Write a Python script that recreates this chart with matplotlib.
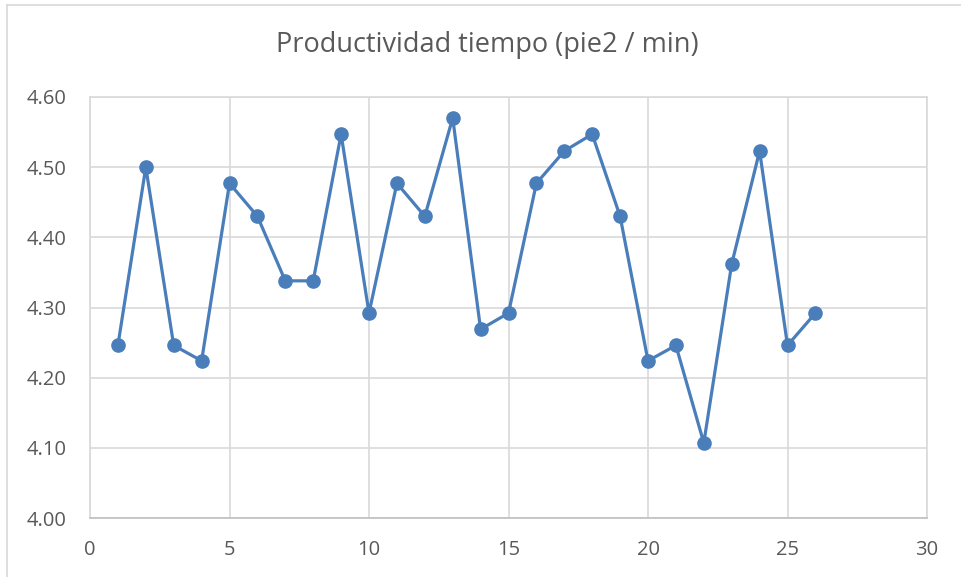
import matplotlib
matplotlib.use('Agg')
import matplotlib.pyplot as plt
from matplotlib.lines import Line2D

# Values
x = list(range(1, 27))
productividad = [4.246, 4.500, 4.246, 4.224, 4.477, 4.430, 4.338, 4.338, 4.547, 4.292,
                 4.477, 4.430, 4.570, 4.269, 4.292, 4.477, 4.523, 4.547, 4.430, 4.224,
                 4.246, 4.107, 4.362, 4.523, 4.246, 4.292]
x_ticks = [0, 5, 10, 15, 20, 25, 30]
y_ticks = [4.00, 4.10, 4.20, 4.30, 4.40, 4.50, 4.60]

plt.rcParams['font.family'] = ['Open Sans', 'DejaVu Sans']

fig = plt.figure(figsize=(9.61, 5.77), dpi=100)
ax = fig.add_axes([90 / 961, 1 - 518 / 577, (927 - 90) / 961, (518 - 97) / 577])

blue = '#4A7EBB'
ax.plot(x, productividad, color=blue, linewidth=2.3, marker='o', markersize=9.5,
        zorder=5, clip_on=False)

ax.set_xlim(0, 30)
ax.set_ylim(4.0, 4.6)
ax.set_xticks(x_ticks)
ax.set_yticks(y_ticks)
ax.set_yticklabels([f'{v:.2f}' for v in y_ticks])
ax.grid(True, color='#d9d9d9', linewidth=1.2)
ax.set_axisbelow(True)
ax.tick_params(length=0, labelsize=14.5, colors='#595959')
ax.tick_params(axis='x', pad=16)
ax.tick_params(axis='y', pad=17)
for s in ax.spines.values():
    s.set_color('#d9d9d9')
    s.set_linewidth(1.2)
ax.spines['bottom'].set_color('#bfbfbf')

fig.text(487 / 961, 1 - 45 / 577, 'Productividad tiempo (pie2 / min)',
         ha='center', va='center', fontsize=19.5, color='#595959')

# chart border (top and left edges visible)
fig.add_artist(Line2D([7 / 961, 7 / 961], [0, 1 - 5 / 577], transform=fig.transFigure,
                      color='#d9d9d9', linewidth=1.2))
fig.add_artist(Line2D([7 / 961, 1], [1 - 5 / 577, 1 - 5 / 577], transform=fig.transFigure,
                      color='#d9d9d9', linewidth=1.2))

fig.savefig('out.png', dpi=100)
